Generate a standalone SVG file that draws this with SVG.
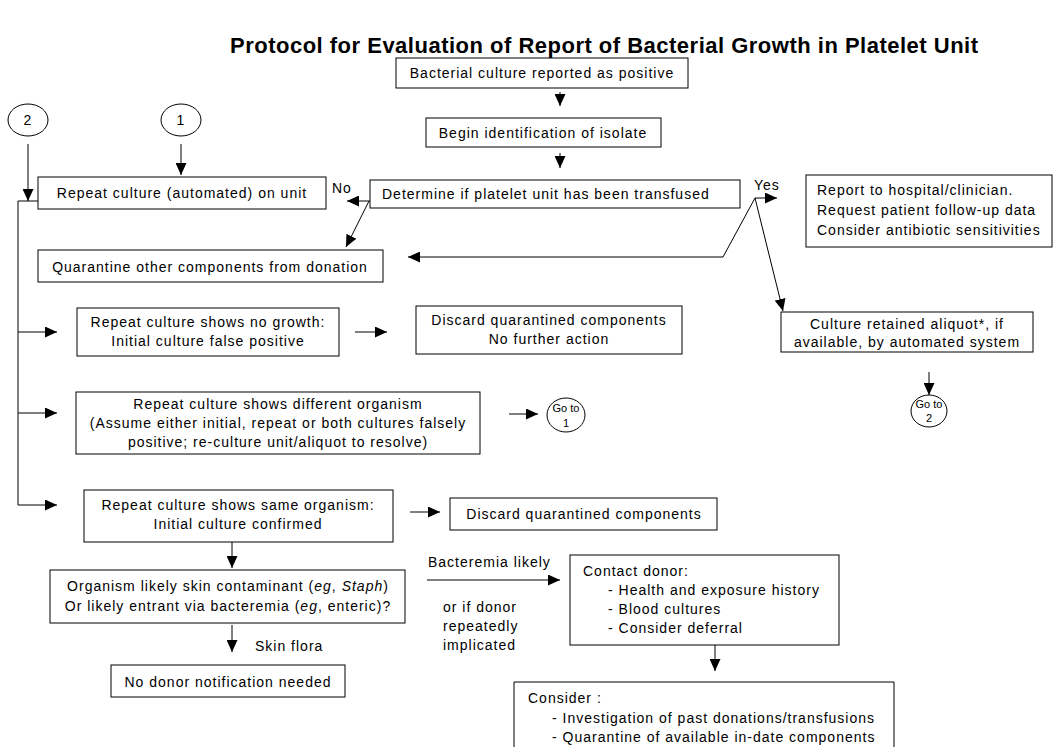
<svg xmlns="http://www.w3.org/2000/svg" width="1057" height="747" viewBox="0 0 1057 747">
<defs>
<marker id="ah" markerWidth="12" markerHeight="11" refX="12" refY="5.5" orient="auto" markerUnits="userSpaceOnUse">
<path d="M0,0 L12,5.5 L0,11 z" fill="#000"/>
</marker>
<style>
.box{fill:#fff;stroke:#000;stroke-width:1}
.t{font-family:"Liberation Sans",Arial,sans-serif;font-size:14px;letter-spacing:1px;fill:#000}
.c{text-anchor:middle}
.s{font-family:"Liberation Sans",Arial,sans-serif;font-size:11px;fill:#000;text-anchor:middle}
.ln{fill:none;stroke:#000;stroke-width:1}
.ar{fill:none;stroke:#000;stroke-width:1;marker-end:url(#ah)}
.title{font-family:"Liberation Sans",Arial,sans-serif;font-size:22px;font-weight:bold;fill:#000;text-anchor:middle}
</style>
</defs>
<rect width="1057" height="747" fill="#fff"/>
<text class="title" x="604" y="53" textLength="748" lengthAdjust="spacing">Protocol for Evaluation of Report of Bacterial Growth in Platelet Unit</text>

<g id="connectors">
<path class="ar" d="M560,92 V106"/>
<path class="ar" d="M560,153 V168"/>
<path class="ar" d="M370,201 H347"/>
<path class="ar" d="M369,201 L346,247"/>
<path class="ar" d="M181,144 V175"/>
<path class="ar" d="M28,144 V201"/>
<path class="ar" d="M38,201 H18 V505 H57"/>
<path class="ar" d="M18,332 H57"/>
<path class="ar" d="M18,413 H57"/>
<path class="ar" d="M755,198 H777"/>
<path class="ar" d="M755,198 L723,257 H408"/>
<path class="ar" d="M755,198 L783,311"/>
<path class="ar" d="M929,372 V395"/>
<path class="ar" d="M355,332 H387"/>
<path class="ar" d="M509,414 H538"/>
<path class="ar" d="M410,512 H440"/>
<path class="ar" d="M232,542 V568"/>
<path class="ar" d="M232,625 V652"/>
<path class="ar" d="M427,580 H560"/>
<path class="ar" d="M715,645 V671"/>
</g>

<g id="labels">
<text class="t" x="332" y="193">No</text>
<text class="t" x="754" y="190">Yes</text>
<text class="t" x="255" y="651">Skin flora</text>
<text class="t" x="428" y="567">Bacteremia likely</text>
<text class="t" x="443" y="612">or if donor</text>
<text class="t" x="443" y="631">repeatedly</text>
<text class="t" x="443" y="650">implicated</text>
</g>

<g id="n-positive">
<rect class="box" x="396" y="58" width="292" height="30"/>
<text class="t c" x="542" y="78">Bacterial culture reported as positive</text>
</g>
<g id="n-begin">
<rect class="box" x="426" y="118" width="235" height="29"/>
<text class="t c" x="543" y="138">Begin identification of isolate</text>
</g>
<g id="n-determine">
<rect class="box" x="370" y="180" width="370" height="28"/>
<text class="t" x="382" y="199">Determine if platelet unit has been transfused</text>
</g>
<g id="n-circle2">
<ellipse class="ln" cx="28" cy="120" rx="20" ry="16"/>
<text class="t c" x="28" y="125">2</text>
</g>
<g id="n-circle1">
<ellipse class="ln" cx="181" cy="120" rx="20" ry="16"/>
<text class="t c" x="181" y="125">1</text>
</g>
<g id="n-repeat">
<rect class="box" x="38" y="177" width="288" height="32"/>
<text class="t c" x="182" y="198">Repeat culture (automated) on unit</text>
</g>
<g id="n-quarantine">
<rect class="box" x="38" y="250" width="345" height="32"/>
<text class="t c" x="210" y="272">Quarantine other components from donation</text>
</g>
<g id="n-report">
<rect class="box" x="806" y="175" width="246" height="72"/>
<text class="t" x="817" y="195">Report to hospital/clinician.</text>
<text class="t" x="817" y="215">Request patient follow-up data</text>
<text class="t" x="817" y="235">Consider antibiotic sensitivities</text>
</g>
<g id="n-retained">
<rect class="box" x="781" y="312" width="252" height="40"/>
<text class="t c" x="907" y="329">Culture retained aliquot*, if</text>
<text class="t c" x="907" y="347">available, by automated system</text>
</g>
<g id="n-goto2">
<ellipse class="ln" cx="929" cy="411" rx="18" ry="16"/>
<text class="s" x="929" y="408">Go to</text>
<text class="s" x="929" y="422">2</text>
</g>
<g id="n-nogrowth">
<rect class="box" x="77" y="308" width="262" height="48"/>
<text class="t c" x="208" y="327">Repeat culture shows no growth:</text>
<text class="t c" x="208" y="346">Initial culture false positive</text>
</g>
<g id="n-discard1">
<rect class="box" x="416" y="306" width="266" height="48"/>
<text class="t c" x="549" y="325">Discard quarantined components</text>
<text class="t c" x="549" y="344">No further action</text>
</g>
<g id="n-different">
<rect class="box" x="76" y="392" width="404" height="62"/>
<text class="t c" x="278" y="409">Repeat culture shows different organism</text>
<text class="t c" x="278" y="428">(Assume either initial, repeat or both cultures falsely</text>
<text class="t c" x="278" y="447">positive; re-culture unit/aliquot to resolve)</text>
</g>
<g id="n-goto1">
<ellipse class="ln" cx="566" cy="415" rx="19" ry="17"/>
<text class="s" x="566" y="412">Go to</text>
<text class="s" x="566" y="427">1</text>
</g>
<g id="n-same">
<rect class="box" x="84" y="490" width="309" height="52"/>
<text class="t c" x="238" y="510">Repeat culture shows same organism:</text>
<text class="t c" x="238" y="529">Initial culture confirmed</text>
</g>
<g id="n-discard2">
<rect class="box" x="450" y="498" width="267" height="32"/>
<text class="t c" x="584" y="519">Discard quarantined components</text>
</g>
<g id="n-organism">
<rect class="box" x="50" y="570" width="355" height="53"/>
<text class="t c" x="228" y="591">Organism likely skin contaminant  (<tspan font-style="italic">eg</tspan>, <tspan font-style="italic">Staph</tspan>)</text>
<text class="t c" x="228" y="611">Or likely entrant via bacteremia (<tspan font-style="italic">eg</tspan>, enteric)?</text>
</g>
<g id="n-nodonor">
<rect class="box" x="111" y="665" width="234" height="32"/>
<text class="t c" x="228" y="687">No donor notification needed</text>
</g>
<g id="n-contact">
<rect class="box" x="570" y="555" width="269" height="90"/>
<text class="t" x="583" y="576">Contact donor:</text>
<text class="t" x="608" y="595">- Health and exposure history</text>
<text class="t" x="608" y="614">- Blood cultures</text>
<text class="t" x="608" y="633">- Consider deferral</text>
</g>
<g id="n-consider">
<path class="ln" d="M514,750 V682 H894 V750"/>
<text class="t" x="528" y="703">Consider :</text>
<text class="t" x="552" y="723">- Investigation of past donations/transfusions</text>
<text class="t" x="552" y="742">- Quarantine of available in-date components</text>
</g>
</svg>
